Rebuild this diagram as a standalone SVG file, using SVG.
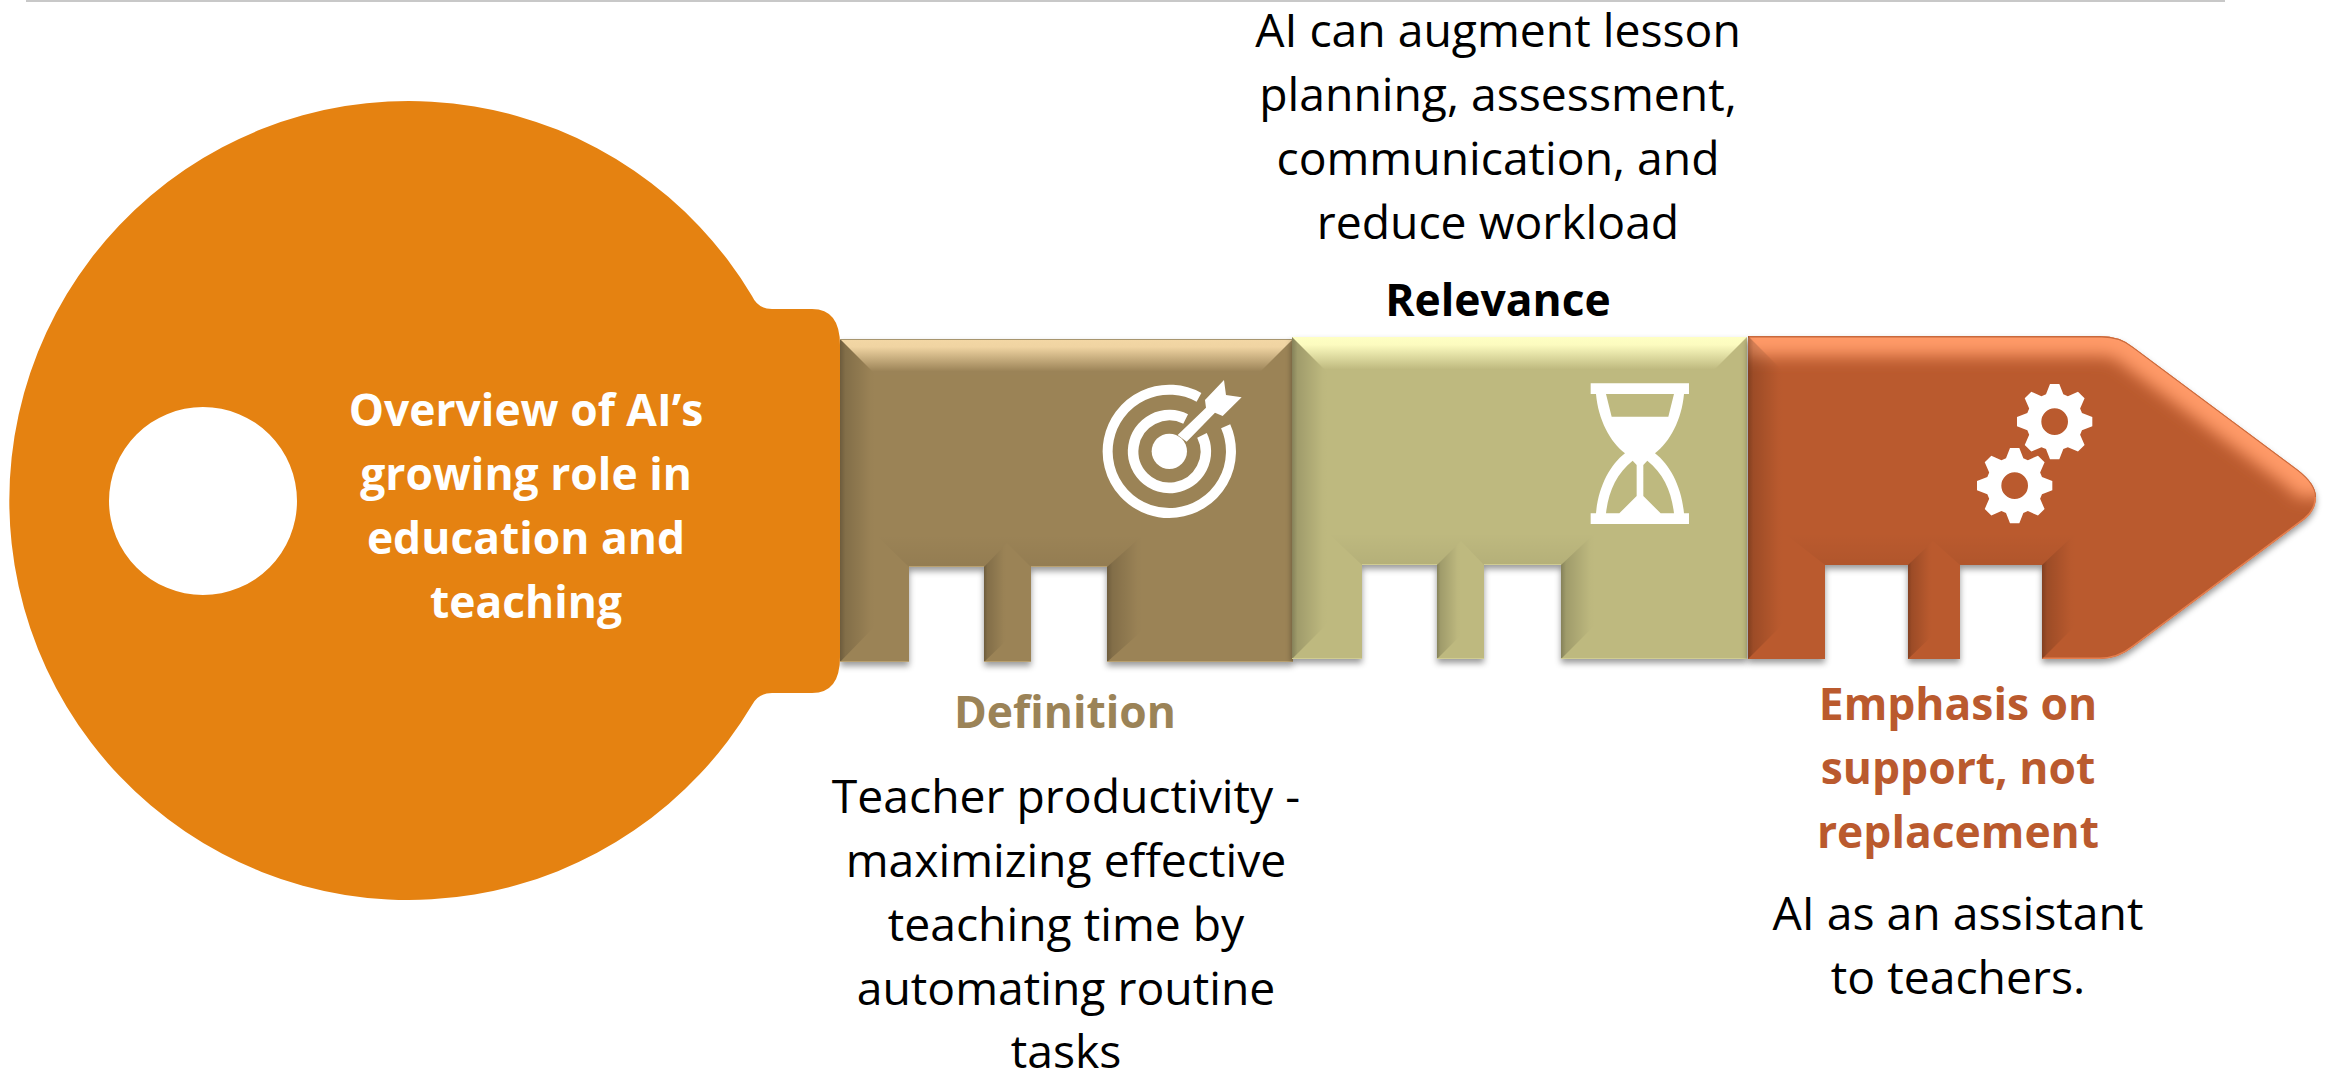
<svg xmlns="http://www.w3.org/2000/svg" xmlns:xlink="http://www.w3.org/1999/xlink" width="2338" height="1070" viewBox="0 0 2338 1070">
<style>
text{font-family:"Open Sans","Noto Sans","Liberation Sans",sans-serif;font-size:46.3px;text-anchor:middle;fill:#000}
.b{font-weight:700;font-size:44.4px}
.w{fill:#fff}
.c1{fill:#9B8357}.c2{fill:#BEB97F}.c3{fill:#BA5A2E}
.ic{fill:#fff}
</style>
<defs>
<filter id="sh" x="-5%" y="-5%" width="110%" height="115%"><feDropShadow dx="0" dy="4" stdDeviation="3" flood-color="#000" flood-opacity=".4"/></filter>
<filter id="bl" x="-10%" y="-20%" width="120%" height="140%"><feGaussianBlur stdDeviation="8"/></filter>
<linearGradient id="l" x1="0" x2="1" y1="0" y2="0"><stop offset="0" stop-color="#000" stop-opacity=".3"/><stop offset=".15" stop-color="#000" stop-opacity=".16"/><stop offset=".85" stop-color="#000" stop-opacity=".01"/><stop offset="1" stop-color="#000" stop-opacity="0"/></linearGradient>
<linearGradient id="d" x1="0" x2="0" y1="0" y2="1"><stop offset="0" stop-color="#000" stop-opacity="0"/><stop offset="1" stop-color="#000" stop-opacity=".05"/></linearGradient>
<linearGradient id="t1" x1="0" x2="0" y1="0" y2="1"><stop offset="0" stop-color="#F3D7A5"/><stop offset=".22" stop-color="#F0D4A2"/><stop offset=".9" stop-color="#9B8357"/><stop offset="1" stop-color="#9B8357"/></linearGradient>
<linearGradient id="t2" x1="0" x2="0" y1="0" y2="1"><stop offset="0" stop-color="#FFFFC4"/><stop offset=".22" stop-color="#FCFBBF"/><stop offset=".9" stop-color="#BEB97F"/><stop offset="1" stop-color="#BEB97F"/></linearGradient>
<clipPath id="cp3"><path d="M1748 336H2100Q2120 336 2133 347L2298 470Q2316 484 2316 497Q2316 510 2305 519L2133 647Q2118 659 2100 659H2042V565H1960V659H1908V565H1825V659H1748Z"/></clipPath>
<path id="gear" fill-rule="evenodd" d="M-26 -82L-14 -113L14 -113L26 -82L39.6 -76.4L70 -89.8L89.8 -70L76.4 -39.6L82 -26L113 -14L113 14L82 26L76.4 39.6L89.8 70L70 89.8L39.6 76.4L26 82L14 113L-14 113L-26 82L-39.6 76.4L-70 89.8L-89.8 70L-76.4 39.6L-82 26L-113 14L-113 -14L-82 -26L-76.4 -39.6L-89.8 -70L-70 -89.8L-39.6 -76.4ZM40 0A40 40 0 1 0 -40 0A40 40 0 1 0 40 0Z"/>
</defs>
<rect width="2338" height="1070" fill="#fff"/>
<rect x="26" y="0" width="2199" height="2" fill="#C8C8C8"/>

<g id="node-definition">
<path class="c1" filter="url(#sh)" d="M840 339H1293V662H1107V567H1031V662H984V567H909V662H840Z"/>
<polygon fill="url(#t1)" points="840,339 1293,339 1257,375 876,375"/>
<polygon fill="url(#l)" points="840,339 876,375 876,625 840,662"/>
<polygon fill="url(#l)" points="984,567 1007,543 1007,640 984,662"/>
<polygon fill="url(#l)" points="1107,567 1143,535 1143,630 1107,662"/>
<polygon fill="url(#d)" points="876,535 1143,535 1107,567 1031,567 1007,543 984,567 909,567"/>
<path d="M840 339.5H1293" stroke="#A8966F" stroke-width="1" fill="none"/>
<path d="M840 661.5H909M984 661.5H1031M1107 661.5H1293" stroke="#B8A070" stroke-width="1" fill="none"/>
<path d="M909 566.5H984M1031 566.5H1107" stroke="#B8A070" stroke-width="1" fill="none"/>
<g class="ic" transform="translate(1080 370) scale(.3333)">
<circle cx="268" cy="244" r="53"/>
<path d="M357 82A185 185 0 1 0 437 169" fill="none" stroke="#fff" stroke-width="30"/>
<path d="M317 147A109 109 0 1 0 366 196" fill="none" stroke="#fff" stroke-width="32"/>
<polygon points="293,195 378,113 375,90 432,30 438,75 485,82 428,138 405,128 320,215"/>
</g>
<text class="b" x="1065" y="728" style="fill:#9B8357">Definition</text>
<text x="1066" y="813">Teacher productivity -</text>
<text x="1066" y="877">maximizing effective</text>
<text x="1066" y="941">teaching time by</text>
<text x="1066" y="1005">automating routine</text>
<text x="1066" y="1068">tasks</text>
</g>

<g id="node-relevance">
<path class="c2" filter="url(#sh)" d="M1292 337H1747V659H1561V565H1484V659H1437V565H1362V659H1292Z"/>
<polygon fill="url(#t2)" points="1292,337 1747,337 1711,373 1328,373"/>
<polygon fill="url(#l)" points="1292,337 1328,373 1328,623 1292,659"/>
<polygon fill="url(#l)" points="1437,565 1461,541 1461,635 1437,659"/>
<polygon fill="url(#l)" points="1561,565 1595,533 1595,625 1561,659"/>
<polygon fill="url(#d)" points="1328,533 1595,533 1561,565 1484,565 1461,541 1437,565 1362,565"/>
<path d="M1292 658.5H1362M1437 658.5H1484M1561 658.5H1747" stroke="#D0CC92" stroke-width="1" fill="none"/>
<path d="M1362 564.5H1437M1484 564.5H1561" stroke="#D0CC92" stroke-width="1" fill="none"/>
<path class="ic" fill-rule="evenodd" transform="translate(1570 370) scale(.3333)" d="M62 40H357V72H342C335 150 300 215 255 250C300 285 335 350 342 430H357V462H62V430H78C85 350 120 285 165 250C120 215 85 150 78 72H62ZM108 72L125 140H295L312 72ZM108 430H148L200 378V285L188 272C140 310 115 365 108 430ZM312 430H272L220 378V285L232 272C280 310 305 365 312 430Z"/>
<text x="1498" y="47">AI can augment lesson</text>
<text x="1498" y="111">planning, assessment,</text>
<text x="1498" y="175">communication, and</text>
<text x="1498" y="239">reduce workload</text>
<text class="b" x="1498" y="316">Relevance</text>
</g>

<g id="node-emphasis">
<path class="c3" filter="url(#sh)" d="M1748 336H2100Q2120 336 2133 347L2298 470Q2316 484 2316 497Q2316 510 2305 519L2133 647Q2118 659 2100 659H2042V565H1960V659H1908V565H1825V659H1748Z"/>
<g clip-path="url(#cp3)">
<path d="M1740 336H2100Q2120 336 2133 347L2298 470Q2316 484 2316 497" fill="none" stroke="#FF9A68" stroke-width="40" filter="url(#bl)"/>
<path d="M1748 336.5H2100Q2120 336 2133 347L2298 470Q2316 484 2316 497" fill="none" stroke="#C8693C" stroke-width="2"/>
<path d="M2316 497Q2316 510 2305 519L2133 647Q2118 659 2100 659H2042" fill="none" stroke="#E67F4E" stroke-width="3"/>
<polygon fill="url(#l)" points="1748,336 1784,372 1784,623 1748,659"/>
<polygon fill="url(#l)" points="1908,565 1933,541 1933,635 1908,659"/>
<polygon fill="url(#l)" points="2042,565 2076,533 2076,625 2042,659"/>
<polygon fill="url(#d)" points="1784,533 2076,533 2042,565 1960,565 1933,541 1908,565 1825,565"/>
</g>
<g class="ic" transform="translate(1960 370) scale(.3333)">
<use xlink:href="#gear" href="#gear" x="284" y="155"/>
<use xlink:href="#gear" href="#gear" x="164" y="347"/>
</g>
<text class="b" x="1958" y="720" style="fill:#BA5A2E">Emphasis on</text>
<text class="b" x="1958" y="784" style="fill:#BA5A2E">support, not</text>
<text class="b" x="1958" y="848" style="fill:#BA5A2E">replacement</text>
<text x="1958" y="930">AI as an assistant</text>
<text x="1958" y="994">to teachers.</text>
</g>

<g id="node-overview">
<path fill="#E58211" fill-rule="evenodd" d="M752 296Q758 309 772 309H812Q840 309 840 345V657Q840 693 812 693H772Q758 693 752 705A399.5 399.5 0 1 1 752 296ZM297 501A94 94 0 1 0 109 501A94 94 0 1 0 297 501Z"/>
<text class="b w" x="526" y="426">Overview of AI’s</text>
<text class="b w" x="526" y="490">growing role in</text>
<text class="b w" x="526" y="554">education and</text>
<text class="b w" x="526" y="618">teaching</text>
</g>
</svg>
